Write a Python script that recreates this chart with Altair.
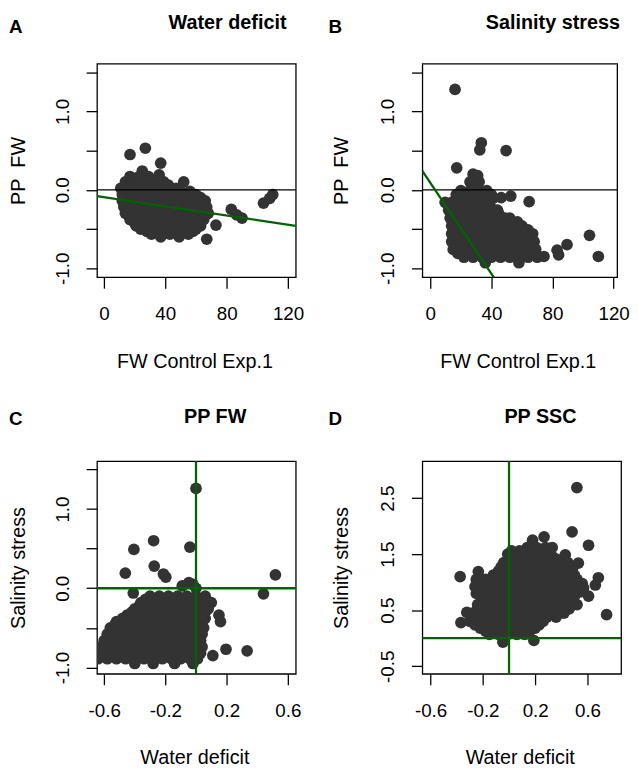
import altair as alt
import pandas as pd

FONT = "Liberation Sans"
GREEN = "#006400"
DOT = "#333333"

# ---------------- data ----------------
# Panel A: FW Control Exp.1 (x) vs PP FW under water deficit (y)
A_single = [(17, 0.45), (27, 0.53), (37, 0.34), (25, 0.24), (36, 0.19), (52, 0.10),
            (73, -0.45), (67, -0.63), (83, -0.25), (86.5, -0.32), (90, -0.36),
            (104, -0.17), (108, -0.11), (110, -0.06)]
A_rows = [
    (0.17, [17, 23, 29]),
    (0.135, [20, 26]),
    (0.10, [14, 20, 26, 32, 39]),
    (0.06, [17, 23, 29, 35, 42]),
    (0.02, [11, 17, 23, 29, 35, 41, 47]),
    (-0.02, [14, 20, 26, 32, 38, 44, 50, 56]),
    (-0.06, [12, 18, 24, 30, 36, 42, 48, 54, 60]),
    (-0.10, [15, 21, 27, 33, 39, 45, 51, 57, 63]),
    (-0.14, [12, 18, 24, 30, 36, 42, 48, 54, 60, 66]),
    (-0.18, [15, 21, 27, 33, 39, 45, 51, 57, 63]),
    (-0.22, [13, 19, 25, 31, 37, 43, 49, 55, 61, 67]),
    (-0.26, [16, 22, 28, 34, 40, 46, 52, 58, 64]),
    (-0.30, [14, 20, 26, 32, 38, 44, 50, 56, 62, 68]),
    (-0.34, [17, 23, 29, 35, 41, 47, 53, 59, 65]),
    (-0.38, [17, 23, 29, 35, 41, 47, 53, 59, 65]),
    (-0.42, [20, 26, 32, 38, 44, 50, 56, 62]),
    (-0.46, [21, 27, 33, 39, 45, 51, 57, 63]),
    (-0.50, [24, 30, 36, 42, 48, 54, 60]),
    (-0.53, [28, 34, 40, 46, 52, 58]),
    (-0.565, [31, 43, 55]),
    (-0.60, [37, 49]),
]
A_fit = (-0.093, -0.00293)   # intercept, slope

# Panel B: FW Control Exp.1 (x) vs PP FW under salinity stress (y)
B_single = [(16.2, 1.28), (33.4, 0.60), (32.4, 0.51), (49.6, 0.50), (17.3, 0.28),
            (28, 0.20), (31, 0.18), (26, 0.10), (32, 0.10), (29, 0.02),
            (64.7, -0.15), (46.4, -0.10), (52.7, -0.08), (9.7, -0.16),
            (74.4, -0.85), (83, -0.77), (84, -0.83), (89.5, -0.70), (104.2, -0.58), (110, -0.85)]
B_rows = [
    (-0.01, [20, 26, 32, 37]),
    (-0.06, [17, 23, 29, 35, 40]),
    (-0.11, [17, 23, 29, 35, 41]),
    (-0.16, [14, 20, 26, 32, 38]),
    (-0.21, [15, 21, 27, 33, 39]),
    (-0.26, [12, 18, 24, 30, 36, 42, 44]),
    (-0.31, [15, 21, 27, 33, 39, 45]),
    (-0.36, [13, 19, 25, 31, 37, 43, 49, 52]),
    (-0.41, [16, 22, 28, 34, 40, 46, 52, 57]),
    (-0.46, [14, 20, 26, 32, 38, 44, 50, 56, 60]),
    (-0.51, [17, 23, 29, 35, 41, 47, 53, 59, 64]),
    (-0.56, [14, 20, 26, 32, 38, 44, 50, 56, 62, 67]),
    (-0.61, [17, 23, 29, 35, 41, 47, 53, 59, 65]),
    (-0.66, [14, 20, 26, 32, 38, 44, 50, 56, 62, 68]),
    (-0.71, [17, 23, 29, 35, 41, 47, 53, 59, 65]),
    (-0.76, [15, 21, 27, 33, 39, 45, 51, 57, 63, 69]),
    (-0.81, [18, 24, 30, 36, 42, 48, 54, 60, 66]),
    (-0.86, [22, 28, 34, 40, 46, 52, 58, 64, 70]),
    (-0.93, [36, 58]),
]
B_fit = (0.09, -0.029)

# Panel C: PP FW, water deficit (x) vs salinity stress (y)
C_single = [(0.0, 1.26), (-0.277, 0.60), (-0.406, 0.49), (-0.04, 0.52), (-0.273, 0.28),
            (-0.462, 0.19), (-0.213, 0.18), (-0.197, 0.14), (0.519, 0.17), (0.441, -0.07),
            (0.11, -0.85), (0.196, -0.77), (0.334, -0.79), (-0.047, 0.07), (-0.09, 0.03),
            (-0.02, 0.05), (0.0, 0.0), (-0.41, -0.06)]
C_rows = [
    (-0.10, [-0.30, -0.24, -0.18, -0.12, -0.06, 0.00, 0.06]),
    (-0.14, [-0.33, -0.27, -0.21, -0.15, -0.09, -0.03, 0.03]),
    (-0.18, [-0.36, -0.30, -0.24, -0.18, -0.12, -0.06, 0.00, 0.06, 0.10]),
    (-0.22, [-0.37, -0.31, -0.25, -0.19, -0.13, -0.07, -0.01, 0.05]),
    (-0.26, [-0.40, -0.34, -0.28, -0.22, -0.16, -0.10, -0.04, 0.02, 0.08]),
    (-0.30, [-0.42, -0.36, -0.30, -0.24, -0.18, -0.12, -0.06, 0.00, 0.06]),
    (-0.34, [-0.45, -0.39, -0.33, -0.27, -0.21, -0.15, -0.09, -0.03, 0.03, 0.15]),
    (-0.38, [-0.48, -0.42, -0.36, -0.30, -0.24, -0.18, -0.12, -0.06, 0.00, 0.06]),
    (-0.42, [-0.52, -0.46, -0.40, -0.34, -0.28, -0.22, -0.16, -0.10, -0.04, 0.04, 0.16]),
    (-0.46, [-0.53, -0.47, -0.41, -0.35, -0.29, -0.23, -0.17, -0.11, -0.05, 0.02]),
    (-0.50, [-0.56, -0.50, -0.44, -0.38, -0.32, -0.26, -0.20, -0.14, -0.08, -0.02, 0.05]),
    (-0.54, [-0.55, -0.49, -0.43, -0.37, -0.31, -0.25, -0.19, -0.13, -0.07, -0.01]),
    (-0.58, [-0.58, -0.52, -0.46, -0.40, -0.34, -0.28, -0.22, -0.16, -0.10, -0.04, 0.04]),
    (-0.62, [-0.57, -0.51, -0.45, -0.39, -0.33, -0.27, -0.21, -0.15, -0.09, -0.03]),
    (-0.66, [-0.60, -0.54, -0.48, -0.42, -0.36, -0.30, -0.24, -0.18, -0.12, -0.06, 0.03]),
    (-0.70, [-0.59, -0.53, -0.47, -0.41, -0.35, -0.29, -0.23, -0.17, -0.11, -0.05, 0.01]),
    (-0.74, [-0.62, -0.56, -0.50, -0.44, -0.38, -0.32, -0.26, -0.20, -0.14, -0.08, -0.02, 0.04]),
    (-0.78, [-0.60, -0.54, -0.48, -0.42, -0.36, -0.30, -0.24, -0.18, -0.12, -0.06, 0.00]),
    (-0.82, [-0.63, -0.57, -0.51, -0.45, -0.39, -0.33, -0.27, -0.21, -0.15, -0.09, -0.03, 0.03]),
    (-0.86, [-0.61, -0.55, -0.49, -0.43, -0.37, -0.31, -0.25, -0.19, -0.13, -0.07, -0.01]),
    (-0.89, [-0.64, -0.58, -0.52, -0.46, -0.40, -0.34, -0.28, -0.22, -0.16, -0.10, -0.04, 0.01]),
    (-0.95, [-0.40, -0.28, -0.14, -0.02]),
]

# Panel D: PP SSC, water deficit (x) vs salinity stress (y)
D_single = [(0.519, 2.69), (0.482, 1.90), (0.608, 1.66), (-0.374, 1.10), (0.746, 0.42),
            (-0.368, 0.28), (-0.323, 0.46), (0.268, 1.81), (0.18, 1.75), (0.43, 1.49),
            (0.53, 1.34), (-0.235, 1.19), (0.683, 1.08), (0.66, 0.95), (0.608, 0.75),
            (-0.047, -0.07), (0.19, -0.04), (-0.25, 1.05), (-0.26, 0.92), (-0.25, 0.80)]
D_rows = [
    (1.62, [0.14, 0.21, 0.28, 0.33]),
    (1.56, [0.02, 0.08, 0.17, 0.24, 0.30]),
    (1.50, [-0.01, 0.05, 0.11, 0.18, 0.25, 0.32]),
    (1.425, [0.00, 0.07, 0.14, 0.21, 0.28, 0.35, 0.42]),
    (1.35, [-0.04, 0.03, 0.10, 0.17, 0.24, 0.31, 0.38, 0.45]),
    (1.275, [-0.06, 0.01, 0.08, 0.15, 0.22, 0.29, 0.36, 0.43, 0.49]),
    (1.20, [-0.08, -0.01, 0.06, 0.13, 0.20, 0.27, 0.34, 0.41, 0.48]),
    (1.125, [-0.12, -0.05, 0.02, 0.09, 0.16, 0.23, 0.30, 0.37, 0.44, 0.50]),
    (1.05, [-0.18, -0.11, -0.04, 0.03, 0.10, 0.17, 0.24, 0.31, 0.38, 0.45, 0.52]),
    (0.975, [-0.19, -0.12, -0.05, 0.02, 0.09, 0.16, 0.23, 0.30, 0.37, 0.44, 0.51, 0.56]),
    (0.90, [-0.20, -0.13, -0.06, 0.01, 0.08, 0.15, 0.22, 0.29, 0.36, 0.43, 0.50, 0.57]),
    (0.825, [-0.17, -0.10, -0.03, 0.04, 0.11, 0.18, 0.25, 0.32, 0.39, 0.46, 0.54]),
    (0.75, [-0.21, -0.14, -0.07, 0.00, 0.07, 0.14, 0.21, 0.28, 0.35, 0.42, 0.50]),
    (0.675, [-0.20, -0.13, -0.06, 0.01, 0.08, 0.15, 0.22, 0.29, 0.36, 0.43, 0.49]),
    (0.60, [-0.24, -0.17, -0.10, -0.03, 0.04, 0.11, 0.18, 0.25, 0.32, 0.39, 0.46, 0.52]),
    (0.525, [-0.24, -0.17, -0.10, -0.03, 0.04, 0.11, 0.18, 0.25, 0.32, 0.39, 0.46]),
    (0.45, [-0.28, -0.21, -0.14, -0.07, 0.00, 0.07, 0.14, 0.21, 0.28, 0.35, 0.42]),
    (0.375, [-0.27, -0.20, -0.13, -0.06, 0.01, 0.08, 0.15, 0.22, 0.29, 0.36]),
    (0.30, [-0.30, -0.23, -0.16, -0.09, -0.02, 0.05, 0.12, 0.19, 0.26]),
    (0.24, [-0.26, -0.19, -0.12, -0.05, 0.02, 0.09, 0.16, 0.23]),
    (0.18, [-0.22, -0.15, -0.08, -0.01, 0.06, 0.13, 0.20]),
    (0.125, [-0.18, -0.11, -0.04, 0.03, 0.10, 0.16]),
    (0.07, [-0.15, -0.08, -0.01, 0.06, 0.12]),
]

# axis ticks
X_TICKS_FW = [0, 20, 40, 60, 80, 100, 120]
Y_TICKS_AB = [-1.0, -0.5, 0.0, 0.5, 1.0, 1.5]
X_TICKS_C = [-0.6, -0.4, -0.2, 0.0, 0.2, 0.4, 0.6]
Y_TICKS_C = [-1.0, -0.5, 0.0, 0.5, 1.0, 1.5]
X_TICKS_D = [-0.6, -0.4, -0.2, 0.0, 0.2, 0.4, 0.6, 0.8]
Y_TICKS_D = [-0.5, 0.0, 0.5, 1.0, 1.5, 2.0, 2.5, 3.0]

FMT = "replace(format(datum.value, '.1f'), '\u2212', '-')"
EXPR_X_FW = "datum.value % 40 === 0 ? toString(datum.value) : ''"
EXPR_Y_INT = "abs(datum.value - round(datum.value)) < 0.01 ? " + FMT + " : ''"
EXPR_X_02 = "abs(round(datum.value * 10)) % 4 === 2 ? " + FMT + " : ''"
EXPR_Y_HALF = "abs(round(datum.value * 2)) % 2 === 1 ? " + FMT + " : ''"

PPFW = "PP\u00a0\u00a0FW"


def expand(single, rows):
    xs = [p[0] for p in single] + [x for _, r in rows for x in r]
    ys = [p[1] for p in single] + [y for y, r in rows for _ in r]
    return xs, ys


def panel(single, rows, xdom, ydom, xticks, yticks, xexpr, yexpr, xtitle, ytitle, w, h,
          title, title_dx, title_y, letter, letter_x, letter_y, ytitle_x,
          fit=None, cross=False):
    xs, ys = expand(single, rows)
    df = pd.DataFrame({"x": xs, "y": ys})
    xsc = alt.Scale(domain=xdom, nice=False, zero=False)
    ysc = alt.Scale(domain=ydom, nice=False, zero=False)
    common = dict(grid=False, domain=False, tickSize=11, tickColor="black", tickWidth=1.3,
                  labelFont=FONT, labelFontSize=19, labelColor="black",
                  labelOverlap=False, labelFlush=False,
                  titleFont=FONT, titleFontSize=20, titleFontWeight="normal",
                  titleColor="black", titleBaseline="alphabetic", titleAlign="center")
    xaxis = alt.Axis(values=xticks, labelExpr=xexpr, title=xtitle,
                     labelBaseline="alphabetic", labelAlign="center", labelPadding=32,
                     titleX=w / 2 - 2, titleY=91, **common)
    yaxis = alt.Axis(values=yticks, labelExpr=yexpr, title=ytitle,
                     labelAngle=270, labelAlign="center", labelBaseline="alphabetic",
                     labelPadding=17.7, titleX=ytitle_x, titleY=h / 2, titleAngle=270,
                     **common)
    layers = [
        alt.Chart(df).mark_circle(size=140, color=DOT, opacity=1, clip=True).encode(
            x=alt.X("x:Q", scale=xsc, axis=xaxis),
            y=alt.Y("y:Q", scale=ysc, axis=yaxis),
        )
    ]
    one = pd.DataFrame({"k": [0]})
    if fit is not None:
        a, b = fit
        x1, x2 = xdom
        fdf = pd.DataFrame({"x1": [x1], "x2": [x2], "y1": [a + b * x1], "y2": [a + b * x2]})
        layers.append(
            alt.Chart(one).mark_rule(color="black", strokeWidth=1.2).encode(
                y=alt.YDatum(0, scale=ysc)))
        layers.append(
            alt.Chart(fdf).mark_rule(color=GREEN, strokeWidth=2.3, clip=True).encode(
                x=alt.X("x1:Q", scale=xsc, title=xtitle), x2="x2:Q",
                y=alt.Y("y1:Q", scale=ysc, title=ytitle), y2="y2:Q"))
    if cross:
        layers.append(
            alt.Chart(one).mark_rule(color=GREEN, strokeWidth=2.3).encode(
                y=alt.YDatum(0, scale=ysc)))
        layers.append(
            alt.Chart(one).mark_rule(color=GREEN, strokeWidth=2.3).encode(
                x=alt.XDatum(0, scale=xsc)))
    layers.append(
        alt.Chart(one).mark_text(text=title, font=FONT, fontSize=20, fontWeight="bold",
                                 align="center", baseline="alphabetic", color="black"
                                 ).encode(x=alt.value(w / 2 + title_dx), y=alt.value(title_y)))
    layers.append(
        alt.Chart(one).mark_text(text=letter, font=FONT, fontSize=19, fontWeight="bold",
                                 align="left", baseline="alphabetic", color="black"
                                 ).encode(x=alt.value(letter_x), y=alt.value(letter_y)))
    return alt.layer(*layers).properties(width=w, height=h)


pA = panel(A_single, A_rows, [-4.5, 125], [-1.115, 1.608], X_TICKS_FW, Y_TICKS_AB,
           EXPR_X_FW, EXPR_Y_INT, "FW Control Exp.1", PPFW, 201, 216,
           "Water deficit", 31.5, -35, "A", -89, -31, -73, fit=A_fit)
pB = panel(B_single, B_rows, [-5.2, 122.3], [-1.115, 1.608], X_TICKS_FW, Y_TICKS_AB,
           EXPR_X_FW, EXPR_Y_INT, "FW Control Exp.1", PPFW, 197, 216,
           "Salinity stress", 33.5, -35, "B", -95, -31, -76, fit=B_fit)
pC = panel(C_single, C_rows, [-0.647, 0.652], [-1.08, 1.604], X_TICKS_C, Y_TICKS_C,
           EXPR_X_02, EXPR_Y_INT, "Water deficit", "Salinity stress", 201, 215,
           "PP FW", 19, -39, "C", -89, -37, -73, cross=True)
pD = panel(D_single, D_rows, [-0.663, 0.857], [-0.635, 3.16], X_TICKS_D, Y_TICKS_D,
           EXPR_X_02, EXPR_Y_HALF, "Water deficit", "Salinity stress", 201, 215,
           "PP SSC", 19, -39, "D", -95, -37, -76, cross=True)

chart = alt.concat(pA, pB, pC, pD, columns=2,
                   spacing={"row": 186, "column": 128}, bounds="flush"
                   ).properties(padding=0).configure_view(stroke="black", strokeWidth=1.3)

chart.save("out.html", embed_options={"renderer": "svg", "actions": False})
